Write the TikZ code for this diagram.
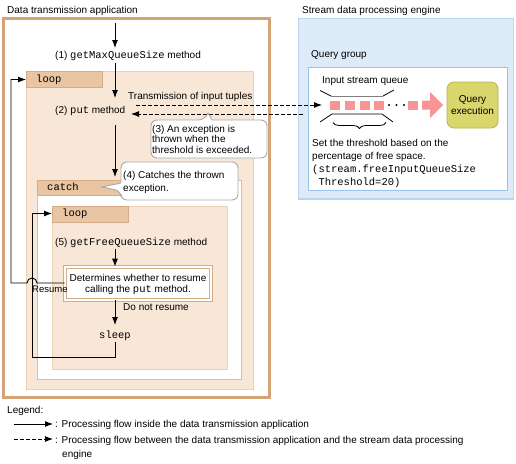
\documentclass[tikz,border=0pt]{standalone}
\usepackage{fontspec}
\setmainfont{Liberation Sans}
\setmonofont{Liberation Mono}
\usetikzlibrary{arrows.meta,decorations.pathreplacing,calc}
\definecolor{apptan}{RGB}{212,164,118}
\definecolor{loopfill}{RGB}{248,231,215}
\definecolor{loopdraw}{RGB}{236,208,180}
\definecolor{tabfill}{RGB}{233,197,163}
\definecolor{tabdraw}{RGB}{214,172,134}
\definecolor{catchdraw}{RGB}{226,190,155}
\definecolor{engfill}{RGB}{221,235,248}
\definecolor{engdraw}{RGB}{185,213,240}
\definecolor{qgdraw}{RGB}{155,196,236}
\definecolor{qpink}{RGB}{248,148,148}
\definecolor{qexfill}{RGB}{216,214,108}
\definecolor{qexdraw}{RGB}{182,180,74}
\definecolor{callgray}{RGB}{170,170,170}
\newcommand{\mono}[1]{{\fontsize{10.5}{13}\selectfont\ttfamily #1}}
\tikzset{
  arr/.style={-{Latex[length=8pt,width=6pt]}, line width=0.9pt},
  darr/.style={arr, dash pattern=on 4pt off 2pt},
  txt/.style={inner sep=0pt, anchor=base west, font=\fontsize{10}{13}\selectfont},
  ctxt/.style={txt, anchor=base},
  tab/.style={fill=tabfill, draw=tabdraw, line width=0.8pt},
  loopbox/.style={fill=loopfill, draw=loopdraw, line width=1pt},
  callout/.style={fill=white, draw=callgray, line width=0.9pt},
}
\begin{document}
\begin{tikzpicture}[x=1pt,y=-1pt]
\useasboundingbox (0,0) rectangle (516,463);
% ---------- application side ----------
\draw[apptan, line width=3pt] (3.2,18.3) rectangle (269,397.7);
\draw[loopbox] (26,71) rectangle (253,389);
\draw[tab] (26,71) rectangle (102,87);
\draw[fill=white, draw=catchdraw, line width=1pt] (37,180) rectangle (241,379);
\draw[tab] (37,180) rectangle (128,195);
\draw[loopbox] (52,206) rectangle (227,369);
\draw[tab] (52,206) rectangle (128,222);
\node (dec) [fill=white, draw=tabdraw, double=white, double distance=2.6pt, line width=0.8pt,
  minimum width=146pt, minimum height=33pt, inner sep=0pt] at (138,283.5) {};

\node (tloop1) [txt] at (36,82) {\mono{loop}};
\node (tcatch) [txt] at (47,190) {\mono{catch}};
\node (tloop2) [txt] at (62,216) {\mono{loop}};

% ---------- engine side ----------
\draw[fill=engfill, draw=engdraw, line width=1.3pt] (298.3,18.3) rectangle (513.3,199);
\draw[fill=white, draw=qgdraw, line width=1pt] (308,67) rectangle (507,190);

\node (tEng) [txt] at (302,13) {Stream data processing engine};
\node (tQG) [txt] at (311,57) {Query group};
\node (tISQ) [txt] at (322,83) {Input stream queue};

% queue outline
\draw[line width=0.8pt] (320,90.5) -- (331,96);
\draw[line width=0.9pt, gray] (331,96) -- (383,96);
\draw[line width=0.8pt] (383,96) -- (394,90);
\draw[line width=0.8pt] (320,122) -- (332,114) -- (382,114) -- (393,122);
\foreach \x in {330,345,360,374} \fill[qpink] (\x,100.5) rectangle ++(9.5,9);
\foreach \x in {389,396.5,404} \fill (\x,105) circle (1.2pt);
\fill[qpink] (408,100.5) rectangle (418,109.5);
\fill[qpink] (422,100.5) -- (430,100.5) -- (430,92) -- (443,105) -- (430,118) -- (430,109.5) -- (422,109.5) -- cycle;
\coordinate (qin) at (322,105);
\node (qex) [fill=qexfill, draw=qexdraw, line width=0.8pt, rounded corners=7pt,
  minimum width=51pt, minimum height=46pt, inner sep=0pt, align=center,
  font=\fontsize{10}{12.5}\selectfont] at (472.5,105) {Query\\execution};
\draw[line width=0.8pt, decorate, decoration={brace, amplitude=6pt}] (386,122.5) -- (333,122.5);

\node (set1) [txt] at (312,146) {Set the threshold based on the};
\node (set2) [txt] at (312,159) {percentage of free space.};
\node (set3) [txt] at (312,172) {\mono{(stream.freeInputQueueSize}};
\node (set4) [txt] at (312,185) {\mono{\ Threshold=20)}};

% ---------- application texts ----------
\node (tApp) [txt] at (7,13) {Data transmission application};
\node (m1) [txt] at (55,58) {(1) \mono{getMaxQueueSize} method};
\node (m2) [txt] at (55,113) {(2) \mono{put} method};
\node (tTr) [txt] at (128,99) {Transmission of input tuples};
\node (m5) [txt] at (55,245) {(5) \mono{getFreeQueueSize} method};
\node (dec1) [ctxt] at (138,281) {Determines whether to resume};
\node (dec2) [ctxt] at (138,292) {calling the \mono{put} method.};
\node (tDNR) [txt] at (123,310) {Do not resume};
\node (sleep) [ctxt] at (115,338) {\mono{sleep}};
\node (tRes) [txt, font=\fontsize{9.5}{11}\selectfont] at (32,292) {Resume};

% ---------- main flow ----------
\coordinate (start) at (115,23);
\coordinate (c1) at (115,48);
\draw[arr] (start) -- (c1);
\coordinate (c2) at (115,63);
\coordinate (c3) at (115,98);
\draw[arr] (c2) -- (c3);
\coordinate (c4) at (115,125);
\coordinate (c5) at (115,177);
\draw[arr] (c4) -- (c5);
\coordinate (c6) at (115,249);
\draw[arr] (c6) -- (dec.north -| c6);
\coordinate (c7) at (115,325);
\draw[arr] (dec.south -| c7) -- (c7);
% sleep back to inner loop
\coordinate (s1) at (115,342);
\coordinate (s2) at (115,357);
\coordinate (s3) at (32,357);
\coordinate (s4) at (32,213.5);
\coordinate (s5) at (52,213.5);
\draw[arr] (s1) -- (s2) -- (s3) -- (s4) -- (s5);
% resume back to outer loop
\coordinate (r1) at (37,283);
\coordinate (r2) at (11,283);
\coordinate (r3) at (11,79.5);
\coordinate (r4) at (26,79.5);
\draw[arr] (dec.west |- r1) -- (r1) arc[start angle=0, end angle=180, radius=5pt] -- (r2) -- (r3) -- (r4);

% dashed interactions
\coordinate (d1) at (136,105);
\draw[darr] (d1) -- (qin);
\coordinate (d2) at (303,114);
\coordinate (d3) at (131,114);
\draw[darr] (d2) -- (d3);

% ---------- callouts ----------
\draw[callout] [rounded corners=6pt] (151,139) |- (204,120) [sharp corners] -- (208,113) -- (212,120)
  [rounded corners=6pt] -| (267,158) -| cycle;
\node (co3a) [txt] at (152,132) {(3) An exception is};
\node (co3b) [txt] at (152,142.5) {thrown when the};
\node (co3c) [txt] at (152,153) {threshold is exceeded.};

\draw[callout] [rounded corners=6pt] (121,182) |- (238,162) |- (121,200) -- (121,191)
  [sharp corners] -- (102,187) -- (121,183);
\node (co4a) [txt] at (123,178) {(4) Catches the thrown};
\node (co4b) [txt] at (123,191) {exception.};

% ---------- legend ----------
\node (leg) [txt] at (7,413) {Legend:};
\coordinate (l1a) at (14,424);
\coordinate (l1b) at (53,424);
\draw[arr] (l1a) -- (l1b);
\node (leg1) [txt] at (55,427) {: Processing flow inside the data transmission application};
\coordinate (l2a) at (14,439);
\coordinate (l2b) at (53,439);
\draw[darr] (l2a) -- (l2b);
\node (leg2) [txt] at (55,443) {: Processing flow between the data transmission application and the stream data processing};
\node (leg3) [txt] at (62,457) {engine};
\end{tikzpicture}
\end{document}
